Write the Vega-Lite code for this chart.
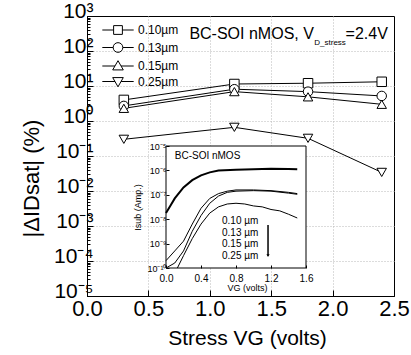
{
  "$schema": "https://vega.github.io/schema/vega-lite/v6.json",
  "width": 307,
  "height": 280,
  "autosize": {"type": "none"},
  "padding": {"left": 87, "top": 16, "right": 17, "bottom": 59},
  "background": "white",
  "config": {
    "font": "Liberation Sans",
    "view": {"stroke": "black", "strokeWidth": 1},
    "axis": {"domainColor": "black", "tickColor": "black", "labelColor": "black", "titleColor": "black", "titleFontWeight": "normal", "labelFont": "Liberation Sans", "titleFont": "Liberation Sans"}
  },
  "datasets": {
    "main": [
      {"L": "0.10µm", "vg": 0.3, "d": 4.0}, {"L": "0.10µm", "vg": 1.2, "d": 11.4}, {"L": "0.10µm", "vg": 1.8, "d": 12.0}, {"L": "0.10µm", "vg": 2.4, "d": 13.2},
      {"L": "0.13µm", "vg": 0.3, "d": 2.7}, {"L": "0.13µm", "vg": 1.2, "d": 8.1}, {"L": "0.13µm", "vg": 1.8, "d": 6.9}, {"L": "0.13µm", "vg": 2.4, "d": 5.2},
      {"L": "0.15µm", "vg": 0.3, "d": 2.3}, {"L": "0.15µm", "vg": 1.2, "d": 6.9}, {"L": "0.15µm", "vg": 1.8, "d": 4.9}, {"L": "0.15µm", "vg": 2.4, "d": 3.0},
      {"L": "0.25µm", "vg": 0.3, "d": 0.30}, {"L": "0.25µm", "vg": 1.2, "d": 0.66}, {"L": "0.25µm", "vg": 1.8, "d": 0.32}, {"L": "0.25µm", "vg": 2.4, "d": 0.034}
    ],
    "inset": [
      {"L": "0.10µm", "v": 0, "i": 1.78e-8}, {"L": "0.10µm", "v": 0.05, "i": 3.55e-8}, {"L": "0.10µm", "v": 0.1, "i": 7.1e-8}, {"L": "0.10µm", "v": 0.2, "i": 2.0e-7}, {"L": "0.10µm", "v": 0.3, "i": 4.0e-7}, {"L": "0.10µm", "v": 0.4, "i": 6.3e-7}, {"L": "0.10µm", "v": 0.5, "i": 8.3e-7}, {"L": "0.10µm", "v": 0.6, "i": 9.8e-7}, {"L": "0.10µm", "v": 0.8, "i": 1.07e-6}, {"L": "0.10µm", "v": 1.0, "i": 1.12e-6}, {"L": "0.10µm", "v": 1.2, "i": 1.17e-6}, {"L": "0.10µm", "v": 1.4, "i": 1.15e-6}, {"L": "0.10µm", "v": 1.5, "i": 1.12e-6},
      {"L": "0.13µm", "v": 0, "i": 2.0e-10}, {"L": "0.13µm", "v": 0.1, "i": 5.0e-10}, {"L": "0.13µm", "v": 0.2, "i": 1.26e-9}, {"L": "0.13µm", "v": 0.3, "i": 6.3e-9}, {"L": "0.13µm", "v": 0.4, "i": 2.8e-8}, {"L": "0.13µm", "v": 0.5, "i": 7.1e-8}, {"L": "0.13µm", "v": 0.6, "i": 1.12e-7}, {"L": "0.13µm", "v": 0.7, "i": 1.41e-7}, {"L": "0.13µm", "v": 0.8, "i": 1.58e-7}, {"L": "0.13µm", "v": 1.0, "i": 1.58e-7}, {"L": "0.13µm", "v": 1.2, "i": 1.48e-7}, {"L": "0.13µm", "v": 1.4, "i": 1.26e-7}, {"L": "0.13µm", "v": 1.5, "i": 1.12e-7},
      {"L": "0.15µm", "v": 0, "i": 1.0e-10}, {"L": "0.15µm", "v": 0.1, "i": 1.6e-10}, {"L": "0.15µm", "v": 0.2, "i": 5.0e-10}, {"L": "0.15µm", "v": 0.3, "i": 3.2e-9}, {"L": "0.15µm", "v": 0.4, "i": 1.41e-8}, {"L": "0.15µm", "v": 0.5, "i": 4.5e-8}, {"L": "0.15µm", "v": 0.6, "i": 8.9e-8}, {"L": "0.15µm", "v": 0.7, "i": 1.26e-7}, {"L": "0.15µm", "v": 0.8, "i": 1.41e-7}, {"L": "0.15µm", "v": 1.0, "i": 1.48e-7}, {"L": "0.15µm", "v": 1.2, "i": 1.41e-7}, {"L": "0.15µm", "v": 1.4, "i": 1.17e-7}, {"L": "0.15µm", "v": 1.5, "i": 1.05e-7},
      {"L": "0.25µm", "v": 0.13, "i": 1.0e-10}, {"L": "0.25µm", "v": 0.2, "i": 3.2e-10}, {"L": "0.25µm", "v": 0.3, "i": 1.6e-9}, {"L": "0.25µm", "v": 0.4, "i": 6.3e-9}, {"L": "0.25µm", "v": 0.5, "i": 1.78e-8}, {"L": "0.25µm", "v": 0.6, "i": 3.2e-8}, {"L": "0.25µm", "v": 0.7, "i": 4.2e-8}, {"L": "0.25µm", "v": 0.8, "i": 4.5e-8}, {"L": "0.25µm", "v": 0.9, "i": 4.2e-8}, {"L": "0.25µm", "v": 1.0, "i": 3.5e-8}, {"L": "0.25µm", "v": 1.1, "i": 3.2e-8}, {"L": "0.25µm", "v": 1.2, "i": 2.5e-8}, {"L": "0.25µm", "v": 1.3, "i": 2.2e-8}, {"L": "0.25µm", "v": 1.4, "i": 1.6e-8}, {"L": "0.25µm", "v": 1.5, "i": 1.12e-8}
    ]
  },
  "layer": [
    {
      "resolve": {"scale": {"shape": "independent"}},
      "layer": [
        {
          "data": {"name": "main"},
          "mark": {"type": "line", "color": "black", "strokeWidth": 1},
          "encoding": {
            "x": {
              "field": "vg", "type": "quantitative",
              "scale": {"domain": [0, 2.5], "nice": false, "zero": false},
              "axis": {
                "values": [0, 0.25, 0.5, 0.75, 1, 1.25, 1.5, 1.75, 2, 2.25, 2.5],
                "labelExpr": "datum.value % 0.5 === 0 ? format(datum.value, '.1f') : ''",
                "labelOverlap": false, "labelFlush": false,
                "labelFontSize": 22, "labelPadding": 8, "labelBaseline": "top",
                "tickSize": {"condition": {"test": "datum.value % 0.5 === 0", "value": -6}, "value": -3},
                "grid": true,
                "gridColor": "#b8b8b8", "gridDash": [1, 2],
                "gridOpacity": {"condition": {"test": "datum.value % 0.5 === 0 && datum.value > 0 && datum.value < 2.5", "value": 1}, "value": 0},
                "title": "Stress VG (volts)", "titleFontSize": 21,
                "titleX": 160, "titleY": 48, "titleBaseline": "alphabetic"
              }
            },
            "y": {
              "field": "d", "type": "quantitative",
              "scale": {"type": "log", "domain": [1e-5, 1000], "nice": false},
              "axis": {
                "values": [1e-5,2e-5,3e-5,4e-5,5e-5,6e-5,7e-5,8e-5,9e-5,1e-4,2e-4,3e-4,4e-4,5e-4,6e-4,7e-4,8e-4,9e-4,0.001,0.002,0.003,0.004,0.005,0.006,0.007,0.008,0.009,0.01,0.02,0.03,0.04,0.05,0.06,0.07,0.08,0.09,0.1,0.2,0.3,0.4,0.5,0.6,0.7,0.8,0.9,1,2,3,4,5,6,7,8,9,10,20,30,40,50,60,70,80,90,100,200,300,400,500,600,700,800,900,1000],
                "labelExpr": "(abs(log(datum.value)/LN10 - round(log(datum.value)/LN10)) < 0.001) ? ('10' + (round(log(datum.value)/LN10) < 0 ? '⁻' : '') + ['⁰','¹','²','³','⁴','⁵','⁶','⁷','⁸','⁹'][abs(round(log(datum.value)/LN10))]) : ''",
                "labelOverlap": false, "labelFlush": false,
                "labelFontSize": 21, "labelPadding": 0, "labelOffset": -5,
                "tickSize": {"condition": {"test": "abs(log(datum.value)/LN10 - round(log(datum.value)/LN10)) < 0.001", "value": -6}, "value": -3},
                "grid": true,
                "gridColor": "#b8b8b8", "gridDash": [1, 2],
                "gridOpacity": {"condition": {"test": "abs(log(datum.value)/LN10 - round(log(datum.value)/LN10)) < 0.001 && datum.value > 2e-5 && datum.value < 500", "value": 1}, "value": 0},
                "title": "|ΔIDsat| (%)", "titleFontSize": 22,
                "titleX": -49, "titleY": 162, "titleBaseline": "alphabetic", "titleAngle": 270
              }
            },
            "detail": {"field": "L"}
          }
        },
        {
          "data": {"name": "main"},
          "mark": {"type": "point", "filled": true, "fill": "white", "stroke": "black", "strokeWidth": 1, "size": 90, "opacity": 1},
          "encoding": {
            "x": {"field": "vg", "type": "quantitative"},
            "y": {"field": "d", "type": "quantitative"},
            "shape": {
              "field": "L", "type": "nominal",
              "scale": {"domain": ["0.10µm", "0.13µm", "0.15µm", "0.25µm"], "range": ["square", "circle", "triangle-up", "triangle-down"]},
              "legend": null
            }
          }
        },
        {
          "data": {"name": "main"},
          "transform": [{"filter": "false"}],
          "mark": {"type": "point", "filled": false, "color": "black", "strokeWidth": 1, "size": 85, "opacity": 1},
          "encoding": {
            "x": {"field": "vg", "type": "quantitative"},
            "y": {"field": "d", "type": "quantitative"},
            "shape": {
              "field": "L", "type": "nominal",
              "scale": {"domain": ["0.10µm", "0.13µm", "0.15µm", "0.25µm"], "range": ["M-3.4,0H-0.95M0.95,0H3.4M-0.95,-0.95H0.95V0.95H-0.95Z", "M-3.4,0H-1.05M1.05,0H3.4M-1.05,0A1.05,1.05,0,1,1,1.05,0A1.05,1.05,0,1,1,-1.05,0Z", "M-3.4,0H-0.66M0.66,0H3.4M0,-1.15L1.15,0.85L-1.15,0.85Z", "M-3.4,0H-0.66M0.66,0H3.4M0,1.15L1.15,-0.85L-1.15,-0.85Z"]},
              "legend": {
                "title": null, "orient": "none", "legendX": 25, "legendY": 8,
                "symbolSize": 85, "labelFontSize": 12, "labelOffset": 14, "rowPadding": 3.5, "padding": 0,
                "labelFont": "Liberation Sans", "labelColor": "black",
                "symbolStrokeWidth": 1, "symbolStrokeColor": "black", "symbolOpacity": 1
              }
            }
          }
        },
        {
          "data": {"values": [{}]},
          "mark": {"type": "text", "align": "right", "baseline": "alphabetic", "fontSize": 16, "font": "Liberation Sans", "color": "black"},
          "encoding": {"x": {"datum": 2.45}, "y": {"datum": 224}, "text": {"value": "=2.4V"}}
        },
        {
          "data": {"values": [{}]},
          "mark": {"type": "text", "align": "right", "baseline": "alphabetic", "fontSize": 8, "font": "Liberation Sans", "color": "black", "dx": -42, "dy": 6},
          "encoding": {"x": {"datum": 2.45}, "y": {"datum": 224}, "text": {"value": "D_stress"}}
        },
        {
          "data": {"values": [{}]},
          "mark": {"type": "text", "align": "right", "baseline": "alphabetic", "fontSize": 16, "font": "Liberation Sans", "color": "black", "dx": -74},
          "encoding": {"x": {"datum": 2.45}, "y": {"datum": 224}, "text": {"value": "BC-SOI nMOS, V"}}
        }
      ]
    },
    {
      "layer": [
        {
          "data": {"values": [{}]},
          "mark": {"type": "rect", "fill": "white", "stroke": "black", "strokeWidth": 1},
          "encoding": {
            "x": {
              "datum": 0, "type": "quantitative",
              "scale": {"domain": [0, 1.6], "range": [79, 219], "nice": false, "zero": false},
              "axis": {
                "orient": "bottom", "offset": -28, "zindex": 2,
                "values": [0, 0.4, 0.8, 1.2, 1.6], "format": ".1f",
                "labelFontSize": 10, "labelPadding": 8, "labelFlush": false, "labelOverlap": false,
                "tickSize": -3, "domain": false, "grid": false,
                "title": "VG (volts)", "titleFontSize": 9, "titleX": 160, "titleY": 22, "titleBaseline": "alphabetic"
              }
            },
            "x2": {"datum": 1.6},
            "y": {
              "datum": 1e-10, "type": "quantitative",
              "scale": {"type": "log", "domain": [1e-10, 1e-5], "range": [252, 130], "nice": false},
              "axis": {
                "orient": "left", "offset": -79, "zindex": 2,
                "values": [1e-10, 1e-9, 1e-8, 1e-7, 1e-6, 1e-5],
                "labelExpr": "'10' + (round(log(datum.value)/LN10) < 0 ? '⁻' : '') + ['⁰','¹','²','³','⁴','⁵','⁶','⁷','⁸','⁹','¹⁰'][abs(round(log(datum.value)/LN10))]",
                "labelFontSize": 9, "labelPadding": 3, "labelFlush": false, "labelOverlap": false,
                "tickSize": -3, "domain": false, "grid": false,
                "title": "Isub (Amp.)", "titleFontSize": 9, "titleX": -26, "titleY": 191, "titleBaseline": "alphabetic", "titleAngle": 270
              }
            },
            "y2": {"datum": 1e-5}
          }
        },
        {
          "data": {"name": "inset"},
          "transform": [{"filter": "datum.L === '0.10µm'"}],
          "mark": {"type": "line", "color": "black", "strokeWidth": 2},
          "encoding": {"x": {"field": "v", "type": "quantitative"}, "y": {"field": "i", "type": "quantitative"}, "detail": {"field": "L"}}
        },
        {
          "data": {"name": "inset"},
          "transform": [{"filter": "datum.L !== '0.10µm'"}],
          "mark": {"type": "line", "color": "black", "strokeWidth": 1},
          "encoding": {"x": {"field": "v", "type": "quantitative"}, "y": {"field": "i", "type": "quantitative"}, "detail": {"field": "L"}}
        },
        {
          "data": {"values": [{}]},
          "mark": {"type": "text", "align": "left", "baseline": "alphabetic", "fontSize": 10, "font": "Liberation Sans", "color": "black"},
          "encoding": {"x": {"datum": 0.1}, "y": {"datum": 2.9e-6}, "text": {"value": "BC-SOI nMOS"}}
        },
        {
          "data": {"values": [{}]},
          "mark": {"type": "text", "align": "left", "baseline": "alphabetic", "fontSize": 10, "font": "Liberation Sans", "color": "black", "lineBreak": "\n", "lineHeight": 11.5},
          "encoding": {"x": {"datum": 0.64}, "y": {"datum": 6.3e-9}, "text": {"value": "0.10 µm\n0.13 µm\n0.15 µm\n0.25 µm"}}
        },
        {
          "data": {"values": [{}]},
          "mark": {"type": "rule", "color": "black", "strokeWidth": 1.5},
          "encoding": {"x": {"datum": 1.166}, "y": {"datum": 5.8e-9}, "y2": {"datum": 3.2e-10}}
        },
        {
          "data": {"values": [{}]},
          "mark": {"type": "point", "shape": "triangle-down", "filled": true, "color": "black", "size": 10, "opacity": 1},
          "encoding": {"x": {"datum": 1.166}, "y": {"datum": 3.2e-10}}
        }
      ]
    }
  ],
  "resolve": {"scale": {"x": "independent", "y": "independent"}}
}
